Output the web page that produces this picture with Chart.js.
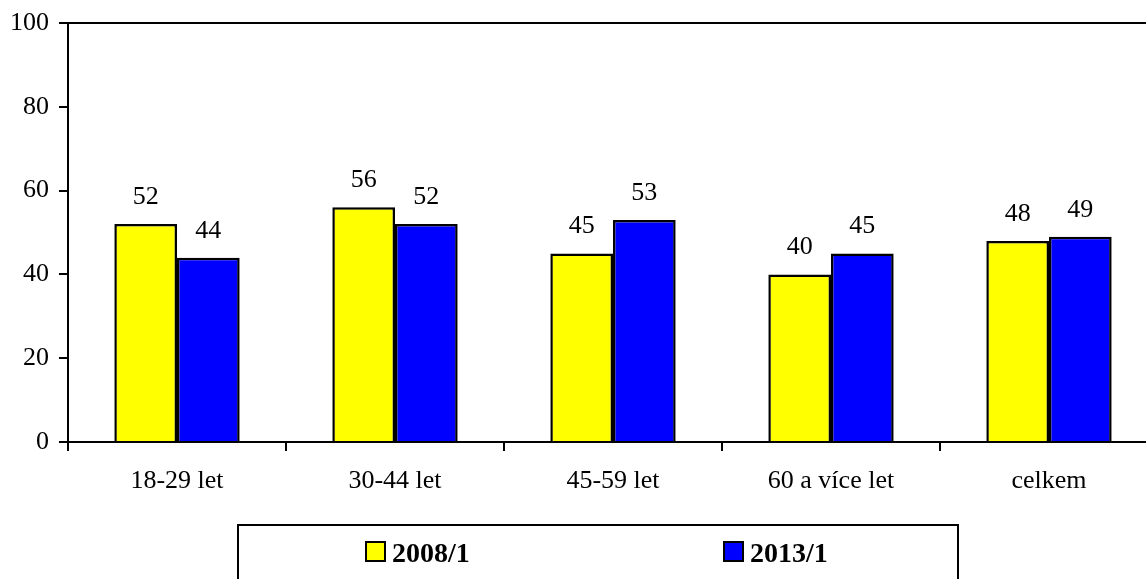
<!DOCTYPE html>
<html>
<head>
<meta charset="utf-8">
<script src="https://cdn.jsdelivr.net/npm/chart.js@4"></script>
<style>
  html, body { margin: 0; padding: 0; background: #fff; overflow: hidden; }
  #wrap { width: 1158px; height: 579px; position: relative; }
</style>
</head>
<body>
<div id="wrap"><canvas id="ageChart"></canvas></div>
<script>
// data
const categories = ['18-29 let', '30-44 let', '45-59 let', '60 a více let', 'celkem'];
const series2008 = [52, 56, 45, 40, 48];
const series2013 = [44, 52, 53, 45, 49];
const seriesNames = ['2008/1', '2013/1'];
const yTicks = [0, 20, 40, 60, 80, 100];

const FONT = '"Liberation Serif", "Times New Roman", serif';

// popisky hodnot nad sloupci
const valueLabels = {
    id: 'valueLabels',
    afterDatasetsDraw(chart) {
        const ctx = chart.ctx;
        ctx.save();
        ctx.font = '26px ' + FONT;
        ctx.fillStyle = '#000';
        ctx.textAlign = 'center';
        ctx.textBaseline = 'alphabetic';
        chart.data.datasets.forEach((ds, i) => {
            chart.getDatasetMeta(i).data.forEach((bar, j) => {
                ctx.fillText(ds.data[j], bar.x, bar.y - 20);
            });
        });
        ctx.restore();
    }
};

// ramecek grafu nahore + legenda v ramecku
const frameAndLegend = {
    id: 'frameAndLegend',
    afterDraw(chart) {
        const ctx = chart.ctx;
        const area = chart.chartArea;
        ctx.save();
        ctx.strokeStyle = '#000';
        ctx.lineWidth = 2;
        ctx.beginPath();
        ctx.moveTo(area.left, area.top);
        ctx.lineTo(area.right, area.top);
        ctx.stroke();

        // legenda
        ctx.strokeRect(238, 525, 720, 80);
        const xs = [366, 724];
        ctx.font = 'bold 28px ' + FONT;
        ctx.textBaseline = 'alphabetic';
        ctx.textAlign = 'left';
        chart.data.datasets.forEach((ds, i) => {
            ctx.fillStyle = ds.backgroundColor;
            ctx.fillRect(xs[i], 542, 19, 19);
            ctx.strokeRect(xs[i], 542, 19, 19);
            ctx.fillStyle = '#000';
            ctx.fillText(ds.label, xs[i] + 26, 562);
        });
        ctx.restore();
    }
};

const ctx = document.getElementById('ageChart').getContext('2d');
new Chart(ctx, {
    type: 'bar',
    data: {
        labels: categories,
        datasets: [
            {
                label: seriesNames[0],
                data: series2008,
                backgroundColor: '#FFFF00',
                borderColor: '#000',
                borderWidth: 2.5,
                borderSkipped: 'bottom'
            },
            {
                label: seriesNames[1],
                data: series2013,
                backgroundColor: '#0000FF',
                borderColor: '#000',
                borderWidth: 2.5,
                borderSkipped: 'bottom'
            }
        ]
    },
    options: {
        responsive: true,
        maintainAspectRatio: false,
        animation: false,
        layout: { padding: { top: 23, right: 0, bottom: 0, left: 0 } },
        datasets: {
            bar: { categoryPercentage: 0.575, barPercentage: 1 }
        },
        plugins: {
            legend: { display: false },
            tooltip: { enabled: false }
        },
        scales: {
            x: {
                grid: {
                    display: true,
                    drawOnChartArea: false,
                    color: '#000',
                    lineWidth: 2,
                    tickLength: 9,
                    offset: true
                },
                border: { display: true, color: '#000', width: 2 },
                ticks: {
                    color: '#000',
                    font: { family: FONT, size: 26 },
                    padding: 15,
                    maxRotation: 0
                },
                afterFit(scale) { scale.height = 137; }
            },
            y: {
                min: 0,
                max: 100,
                afterBuildTicks(scale) { scale.ticks = yTicks.map(v => ({ value: v })); },
                grid: {
                    display: true,
                    drawOnChartArea: false,
                    color: '#000',
                    lineWidth: 2,
                    tickLength: 9
                },
                border: { display: true, color: '#000', width: 2 },
                ticks: {
                    color: '#000',
                    font: { family: FONT, size: 26, lineHeight: 1 },
                    padding: 10
                },
                afterFit(scale) {
                    scale.width = 68;
                    scale.paddingTop = 0;
                    scale.paddingBottom = 0;
                }
            }
        }
    },
    plugins: [valueLabels, frameAndLegend]
});
</script>
</body>
</html>
